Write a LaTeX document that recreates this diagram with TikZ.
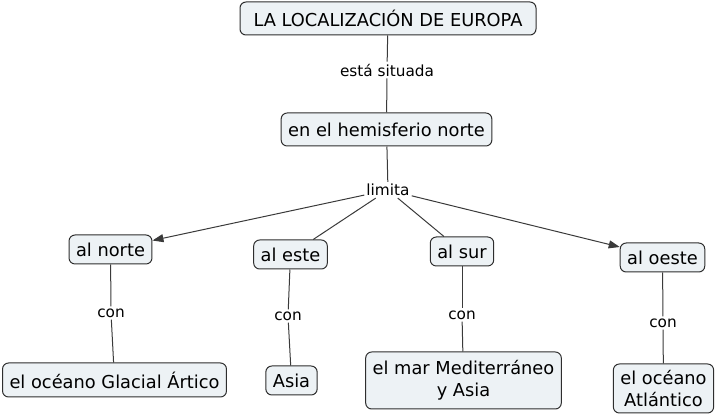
\documentclass[tikz,border=0pt]{standalone}
\usepackage{fontspec}
\setmainfont{DejaVu Sans}
\usetikzlibrary{arrows.meta}
\definecolor{cmapFill}{HTML}{EDF2F5}
\definecolor{cmapInk}{HTML}{2E2E2E}
\definecolor{cmapLine}{HTML}{3A3A3A}

\begin{document}
\begin{tikzpicture}[
  x=1pt,
  y=-1pt,
  concept/.style={
    rounded corners=6pt,
    draw=cmapInk,
    line width=1pt,
    fill=cmapFill,
    align=center,
    font=\fontsize{17.8}{22}\selectfont,
    inner xsep=7pt,
    inner ysep=3pt,
    minimum height=29pt
  },
  linkword/.style={font=\fontsize{15.3}{18}\selectfont, inner sep=2pt},
  line/.style={draw=cmapLine, line width=1pt},
  arrow/.style={line, -{Triangle[length=11pt,width=8pt]}}
]
\useasboundingbox (0,0) rectangle (718,419);

\node[concept, minimum height=33pt, minimum width=296pt] (europa) at (388, 18.5) {LA LOCALIZACIÓN DE EUROPA};
\node[linkword]                     (situada) at (387, 70)   {está situada};
\node[concept, minimum height=33pt] (hemis)   at (386.5,129.5) {en el hemisferio norte};
\node[linkword]                     (limita)  at (388, 190)  {limita};

\node[concept] (norte) at (110.5,249.5) {al norte};
\node[concept] (este)  at (290.5,254.5) {al este};
\node[concept] (sur)   at (462, 251.5)  {al sur};
\node[concept] (oeste) at (662.5,257.5) {al oeste};

\node[linkword] (con1) at (111, 313) {con};
\node[linkword] (con2) at (288, 316) {con};
\node[linkword] (con3) at (462, 315) {con};
\node[linkword] (con4) at (663, 323) {con};

\node[concept, minimum height=34pt] (glacial) at (114.5,380) {el océano Glacial Ártico};
\node[concept]                      (asia)    at (291.5,380.5) {Asia};
\node[concept, minimum height=57pt] (medit)   at (463.5,380.5) {el mar Mediterráneo\\y Asia};
\node[concept, minimum height=49pt] (atlant)  at (663.5,388.5) {el océano\\Atlántico};

\draw[line] (europa) -- (situada);
\draw[line] (situada) -- (hemis);
\draw[line] (hemis) -- (limita);
\draw[arrow] (limita) -- (norte);
\draw[line] (limita) -- (este);
\draw[line] (limita) -- (sur);
\draw[arrow] (limita) -- (oeste);

\draw[line] (norte) -- (con1);
\draw[line] (con1) -- (glacial);
\draw[line] (este) -- (con2);
\draw[line] (con2) -- (asia);
\draw[line] (sur) -- (con3);
\draw[line] (con3) -- (medit);
\draw[line] (oeste) -- (con4);
\draw[line] (con4) -- (atlant);
\end{tikzpicture}
\end{document}
